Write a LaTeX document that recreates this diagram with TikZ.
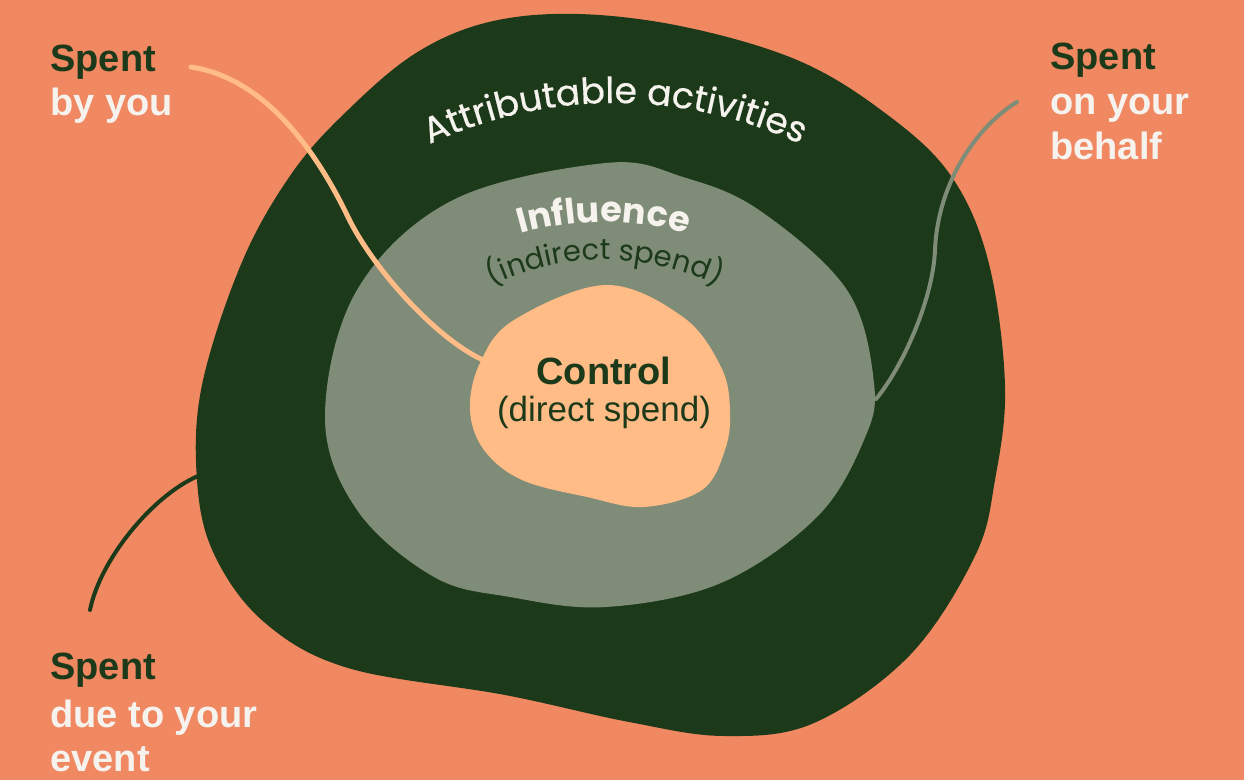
\documentclass[tikz,border=0pt]{standalone}
\usepackage{fontspec}
\setmainfont{Liberation Sans}
\newfontfamily\popfont{Poppins}
\newfontfamily\popmedium{Poppins}[FakeBold=0.5]
\usetikzlibrary{decorations.text}

\definecolor{bgsalmon}{HTML}{F08862}
\definecolor{forest}{HTML}{1C3A1A}
\definecolor{sage}{HTML}{7F8C77}
\definecolor{peach}{HTML}{FFBC86}
\definecolor{cream}{HTML}{F6F3EE}

\begin{document}
\begin{tikzpicture}[x=0.5pt,y=-0.5pt,
  spenthead/.style={anchor=base west, inner sep=0pt, text=forest,
    font=\fontsize{19pt}{22pt}\selectfont\bfseries},
  spenttail/.style={anchor=base west, inner sep=0pt, text=cream,
    font=\fontsize{19pt}{22pt}\selectfont\bfseries},
  corelabel/.style={anchor=base, inner sep=0pt, text=forest,
    font=\fontsize{17.5pt}{21pt}\selectfont},
  wire/.style={line width=#1, line cap=round},
]
% canvas
\fill[bgsalmon] (0,0) rectangle (1244,780);
\useasboundingbox (0,0) rectangle (1244,780);

% outer region: attributable activities
\fill[forest] plot[smooth cycle, tension=0.6] coordinates {
  (578,14) (685,27) (797,60) (881,110) (949,173) (988,260) (1005,385)
  (995,480) (975,556) (910,655) (814,723) (724,736) (629,722) (505,695)
  (348,668) (264,622) (214,554) (197,480) (202,385) (242,262) (292,173)
  (348,110) (416,53) (489,22)};

% middle region: influence
\fill[sage] plot[smooth cycle, tension=0.6] coordinates {
  (606,163) (683,177) (759,210) (847,290) (874,383) (864,440) (817,517)
  (721,583) (606,607) (510,597) (434,577) (357,510) (325,417) (357,290)
  (453,200)};

% inner region: control
\fill[peach] plot[smooth cycle, tension=0.6] coordinates {
  (606,285) (683,317) (721,367) (730,410) (725,450) (702,490) (644,507)
  (587,497) (522,480) (484,450) (470,410) (480,363) (514,320)};

% curved titles
\path[decorate, decoration={text along path, text align=center, text color=cream,
  text={|\popmedium\fontsize{18pt}{21pt}\selectfont|Attributable activities}}]
  (615,541) ++(-140:438) arc[start angle=-140, end angle=-40, radius=438];
\path[decorate, decoration={text along path, text align=center, text color=cream,
  text={|\popfont\bfseries\fontsize{17.5pt}{20pt}\selectfont|Influence}}]
  (604,522) ++(-145:300) arc[start angle=-145, end angle=-35, radius=300];
\path[decorate, decoration={text along path, text align=center, text color=forest,
  text={|\popfont\fontsize{14.5pt}{17pt}\selectfont|(indirect spend)}}]
  (605,522) ++(-150:262) arc[start angle=-150, end angle=-30, radius=262];

% core label
\node[corelabel, font=\fontsize{19pt}{22pt}\selectfont\bfseries] (control) at (604,385) {Control};
\node[corelabel] (direct) at (604,422) {(direct spend)};

% corner labels
\node[spenthead] (youHead) at (50,72) {Spent};
\node[spenttail] (youTail) at (50,116) {by you};
\node[spenthead] (behalfHead) at (1050,70) {Spent};
\node[spenttail] (behalfTail) at (1050,115) {on your};
\node[spenttail] (behalfTail2) at (1050,160) {behalf};
\node[spenthead] (eventHead) at (50,680) {Spent};
\node[spenttail] (eventTail) at (50,728) {due to your};
\node[spenttail] (eventTail2) at (50,772) {event};

% connector end points
\coordinate (youStart) at (191,67);
\coordinate (youBend) at (348,217);
\coordinate (youEnd) at (483,360);
\coordinate (behalfStart) at (1017,102);
\coordinate (behalfBend) at (935,250);
\coordinate (behalfEnd) at (876,399);
\coordinate (eventStart) at (90,610);
\coordinate (eventEnd) at (198,476);

% connectors
\draw[wire=2.5pt, peach] (youStart) .. controls (271,79) and (322,163) .. (youBend)
  .. controls (372,267) and (435,338) .. (youEnd);
\draw[wire=2pt, sage] (behalfStart) .. controls (979,125) and (938,180) .. (behalfBend)
  .. controls (933,300) and (902,368) .. (behalfEnd);
\draw[wire=2pt, forest] (eventStart) .. controls (100,560) and (152,496) .. (eventEnd);
\end{tikzpicture}
\end{document}
